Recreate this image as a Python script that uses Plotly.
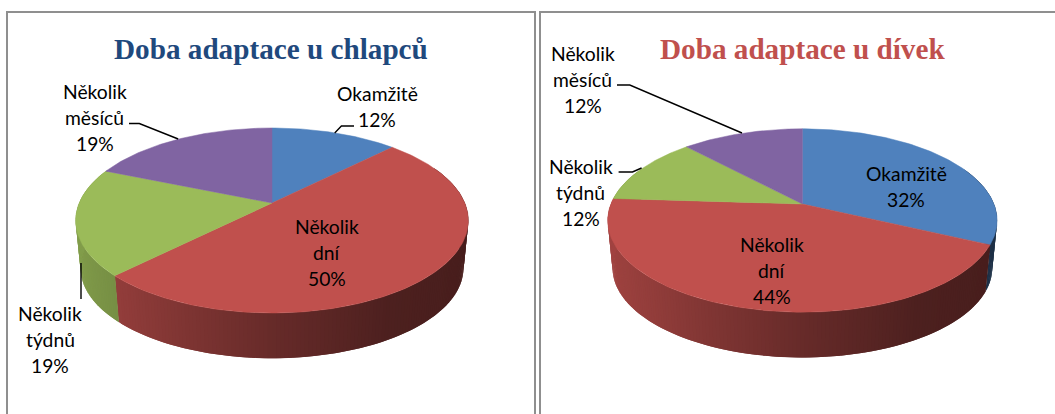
import numpy as np
import plotly.graph_objects as go

categories = ["Okamžitě", "Několik dní", "Několik týdnů", "Několik měsíců"]
boys_share = [12.5, 50, 18.75, 18.75]
girls_share = [32, 44, 12, 12]
boys_labels = ["12%", "50%", "19%", "19%"]
girls_labels = ["32%", "44%", "12%", "12%"]
slice_colors = ["#4F81BD", "#C0504D", "#9BBB59", "#8064A2"]
titles = ["Doba adaptace u chlapců", "Doba adaptace u dívek"]
title_colors = ["#1F497D", "#C0504D"]
label_lines = [["Okamžitě"], ["Několik", "dní"], ["Několik", "týdnů"], ["Několik", "měsíců"]]

W, H = 1055, 414
FONT = "Lato"
LINE_GAP = 26


def project(theta, cx, cy, A, B, k, scale=1.0, drop=0.0):
    u, v = np.sin(theta), np.cos(theta)
    w = 1 + k * v
    return cx + scale * A * u / w, cy - scale * B * v / w + drop


def shade(hex_color, f):
    r, g, b = (int(hex_color[i:i + 2], 16) for i in (1, 3, 5))
    return f"rgb({r * f:.0f},{g * f:.0f},{b * f:.0f})"


def add_pie(fig, shares, cx, cy, A, B, k):
    edges = np.cumsum([0] + list(shares)) / sum(shares) * 2 * np.pi
    # side wall, shaded from left to right; each strip overlaps the one drawn before it
    for i, col in enumerate(slice_colors):
        n = max(2, int((edges[i + 1] - edges[i]) / np.radians(1.0)))
        ts = np.linspace(edges[i], edges[i + 1], n + 1)
        step = ts[1] - ts[0]
        for j, (a, b) in enumerate(zip(ts[:-1], ts[1:])):
            if np.cos((a + b) / 2) > 0.4:
                continue
            start = a - step if j > 0 else a - step * 0.2
            x0, y0 = project(np.array([start, b]), cx, cy, A, B, k)
            x1, y1 = project(np.array([b, start]), cx, cy, A, B, k, 0.975, 48)
            nx = np.sin((a + b) / 2)
            f = np.interp(nx, [-1, -0.7, 0, 0.5, 1], [0.84, 0.76, 0.53, 0.40, 0.37])
            fig.add_trace(go.Scatter(
                x=list(x0) + list(x1), y=list(y0) + list(y1), mode="none", fill="toself",
                fillcolor=shade(col, f), hoverinfo="skip", showlegend=False))
    # top face
    for i, col in enumerate(slice_colors):
        n = max(2, int((edges[i + 1] - edges[i]) / np.radians(1)))
        ts = np.linspace(edges[i], edges[i + 1], n + 1)
        x, y = project(ts, cx, cy, A, B, k)
        fig.add_trace(go.Scatter(
            x=[cx] + list(x) + [cx], y=[cy] + list(y) + [cy], mode="lines", fill="toself",
            fillcolor=col, line=dict(color=col, width=0.5), hoverinfo="skip", showlegend=False,
            name=categories[i]))


fig = go.Figure()
add_pie(fig, boys_share, 272, 203, 192.8, 89.2, 0.189)
add_pie(fig, girls_share, 802.4, 204, 191.5, 88.7, 0.18)

label_pos = [
    [(377, 106), (327, 252), (50, 339), (94.7, 117)],
    [(906.3, 186), (771.8, 270), (580.8, 192), (582.5, 79)],
]
annotations = []
for p, labels in enumerate([boys_labels, girls_labels]):
    for i, pct in enumerate(labels):
        lines = label_lines[i] + [pct]
        for j, line in enumerate(lines):
            annotations.append(dict(
                x=label_pos[p][i][0], y=label_pos[p][i][1] + (j - (len(lines) - 1) / 2) * LINE_GAP,
                xref="x", yref="y", text=line, showarrow=False, align="center",
                xanchor="center", yanchor="middle", font=dict(family=FONT, size=19.3, color="#000000")))
for t, c, x in zip(titles, title_colors, [271.3, 802.2]):
    annotations.append(dict(
        x=x, y=49, xref="x", yref="y", text=f"<b>{t}</b>", showarrow=False, xanchor="center",
        yanchor="middle", font=dict(family="Liberation Serif", size=29.2, color=c)))

leaders = [
    "M334.7,133 L341.4,126 L354,126",
    "M129,123.5 L139.3,123.5 L178.2,139",
    "M81,263 L81,299",
    "M617,85 L629.8,85 L742,133",
    "M618.6,172 L632.5,172 L641.6,168",
]
shapes = [dict(type="path", path=p, xref="x", yref="y", line=dict(color="#000000", width=1.4)) for p in leaders]
frame = "#8f8f8f"
for path in [f"M7,{H} L7,12 L535,12 L535,{H}", f"M540,{H} L540,12 L{W},12"]:
    shapes.append(dict(type="path", path=path, xref="x", yref="y", line=dict(color=frame, width=2)))

fig.update_layout(
    width=W, height=H, margin=dict(l=0, r=0, t=0, b=0), paper_bgcolor="white", plot_bgcolor="white",
    xaxis=dict(range=[0, W], visible=False, fixedrange=True),
    yaxis=dict(range=[H, 0], visible=False, fixedrange=True),
    annotations=annotations, shapes=shapes, showlegend=False, hovermode=False)
fig.write_html("out.html", config={"displayModeBar": False},
               post_script="document.body.style.margin='0';document.documentElement.style.overflow='hidden';")
